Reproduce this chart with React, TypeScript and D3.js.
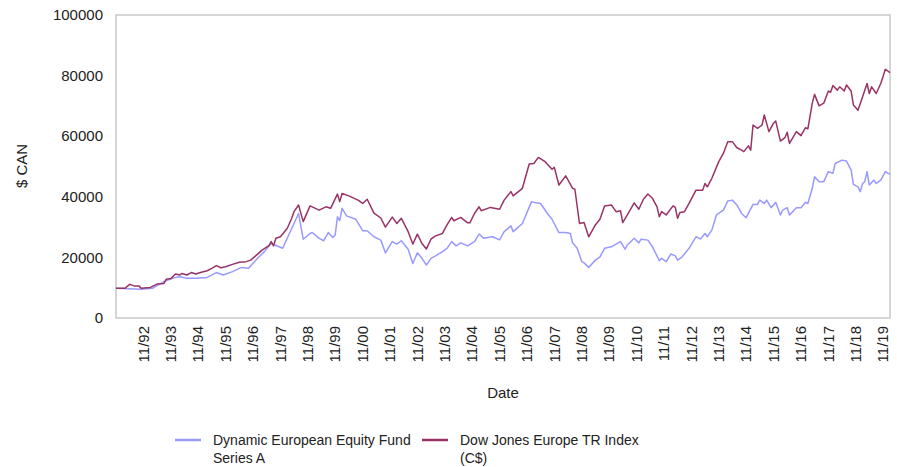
import * as d3 from 'd3';
import { useEffect, useRef } from 'react';

const WIDTH = 897;
const HEIGHT = 467;
const MARGIN = { top: 15, right: 7, bottom: 149, left: 116 };

// months counted from Nov 1991
const START_YEAR = 1991;
const START_MONTH = 10;
const LAST_MONTH = 339;

const fundMonths = [
    0, 11, 16, 21, 26, 28, 31, 35, 40, 44, 47, 51, 55, 58, 62, 65, 68, 73, 76, 78, 80, 82, 85, 86, 89, 91, 93, 95, 96,
    97, 98, 99, 101, 105, 108, 110, 113, 116, 118, 121, 123, 125, 128, 130, 132, 134, 136, 138, 140, 143, 145, 147,
    149, 151, 154, 157, 159, 161, 165, 168, 170, 173, 174, 178, 182, 184, 186, 189, 191, 194, 197, 199, 200, 202, 204,
    205, 207, 210, 212, 214, 217, 220, 221, 223, 224, 227, 229, 230, 233, 235, 238, 239, 241, 243, 245, 246, 248, 251,
    254, 256, 258, 259, 261, 263, 266, 268, 270, 272, 274, 276, 277, 279, 281, 282, 284, 285, 287, 289, 291, 292, 294,
    295, 298, 300, 302, 303, 305, 306, 308, 310, 312, 314, 315, 318, 320, 322, 323, 325, 326, 327, 328, 329, 330, 332,
    333, 335, 337, 339,
];
const fundValues = [
    9800, 9500, 9800, 12000, 13400, 13600, 13100, 13100, 13400, 15000, 14200, 15300, 16700, 16400, 19700, 21900, 24600,
    23000, 27900, 31200, 34500, 26000, 27900, 28200, 26300, 25500, 28200, 26600, 27400, 33400, 32100, 36200, 33700,
    32600, 28800, 28800, 26800, 25700, 21500, 25200, 24400, 25500, 22700, 18000, 21500, 19700, 17500, 19700, 20500,
    21900, 23000, 25200, 23800, 24800, 23800, 25200, 27700, 26300, 26800, 25800, 28500, 30400, 28500, 31200, 38400,
    38000, 37800, 34500, 32600, 28200, 28200, 27900, 24800, 23000, 18600, 18200, 16700, 19100, 20200, 23000, 23500,
    24800, 25200, 22700, 24100, 26300, 24800, 26000, 25700, 23500, 18900, 19700, 18600, 21100, 20500, 19100, 20200,
    23000, 26800, 26100, 27900, 26800, 29000, 34000, 35600, 38600, 38900, 37300, 34500, 33100, 34500, 37500, 37500,
    38900, 37800, 38900, 36400, 38200, 34000, 35600, 36400, 34000, 36400, 36400, 38200, 37800, 42800, 46600, 45000,
    45000, 48300, 47800, 51000, 52100, 51800, 48800, 44100, 43300, 41700, 44400, 45000, 48300, 43900, 45500, 44400,
    45500, 48300, 47400,
];

const indexMonths = [
    0, 4, 6, 8, 10, 11, 15, 18, 21, 22, 24, 26, 28, 29, 31, 33, 35, 37, 40, 42, 44, 46, 48, 51, 54, 57, 59, 62, 64, 67,
    68, 69, 70, 72, 75, 77, 78, 80, 82, 85, 89, 92, 94, 97, 98, 99, 102, 106, 108, 110, 113, 116, 118, 121, 123, 125,
    128, 130, 132, 134, 136, 138, 140, 143, 145, 147, 148, 151, 154, 155, 157, 159, 160, 164, 168, 170, 173, 174, 178,
    181, 183, 185, 188, 191, 192, 194, 197, 200, 201, 203, 205, 207, 210, 212, 214, 217, 219, 221, 222, 224, 227, 229,
    231, 233, 235, 237, 238, 239, 241, 244, 245, 246, 247, 249, 251, 254, 257, 258, 259, 261, 264, 266, 268, 270, 272,
    274, 275, 277, 278, 279, 281, 283, 284, 286, 288, 289, 291, 293, 294, 295, 298, 300, 302, 303, 305, 306, 308, 310,
    312, 313, 314, 316, 317, 319, 320, 322, 323, 325, 327, 329, 330, 331, 333, 335, 337, 339,
];
const indexValues = [
    9800, 9800, 11100, 10600, 10600, 9800, 10100, 11200, 11400, 12800, 13000, 14500, 14200, 14700, 14200, 15000, 14500,
    15000, 15600, 16400, 17300, 16600, 16900, 17700, 18400, 18600, 19100, 21100, 22400, 23900, 25200, 23800, 26300,
    26800, 29600, 32900, 35100, 37300, 31800, 37000, 35600, 36700, 36200, 40900, 38400, 41100, 40300, 38900, 37800,
    39200, 34600, 33000, 30000, 33300, 31200, 32900, 28500, 24400, 27700, 24600, 22800, 26000, 27100, 27900, 30700,
    33200, 32100, 33200, 31400, 31400, 34500, 36700, 35400, 36500, 35900, 38900, 41700, 40300, 42800, 50800, 51000,
    53000, 51600, 49100, 49700, 43900, 46900, 42800, 42500, 31200, 31500, 26800, 30700, 32600, 37000, 37300, 35100,
    35400, 31500, 34000, 38000, 35900, 39200, 40900, 39500, 36700, 33400, 35100, 34000, 37000, 36500, 32900, 34800,
    35100, 37800, 42200, 42200, 44400, 43300, 46100, 51600, 54300, 58200, 58200, 56200, 55400, 54900, 56800, 55400,
    63700, 62600, 63700, 67000, 61500, 64300, 65000, 58400, 59500, 61300, 57600, 61500, 60200, 62800, 62400, 70900,
    73800, 70000, 70900, 74900, 74500, 76700, 75200, 76300, 74900, 76900, 74900, 70300, 68600, 73000, 77400, 74100,
    76300, 74100, 77400, 82100, 81000,
];

const yTicks = [0, 20000, 40000, 60000, 80000, 100000];
const xTickLabels = [
    '11/92', '11/93', '11/94', '11/95', '11/96', '11/97', '11/98', '11/99', '11/00', '11/01', '11/02', '11/03', '11/04',
    '11/05', '11/06', '11/07', '11/08', '11/09', '11/10', '11/11', '11/12', '11/13', '11/14', '11/15', '11/16', '11/17',
    '11/18', '11/19',
];

const seriesNames = ['Dynamic European Equity Fund', 'Dow Jones Europe TR Index'];
const seriesNames2 = ['Series A', '(C$)'];
const seriesColors = ['#9999ff', '#993366'];

const FONT = 'Liberation Sans, Arial, sans-serif';

const monthDate = (m: number) => new Date(START_YEAR, START_MONTH + m, 1);

const App = () => {
    const svgRef = useRef<SVGSVGElement>(null);

    useEffect(() => {
        if (!svgRef.current) return;
        const innerWidth = WIDTH - MARGIN.left - MARGIN.right;
        const innerHeight = HEIGHT - MARGIN.top - MARGIN.bottom;

        const xScale = d3.scaleTime().domain([monthDate(0), monthDate(LAST_MONTH)]).range([0, innerWidth]);
        const yScale = d3.scaleLinear().domain([0, 100000]).range([innerHeight, 0]);

        const svg = d3.select(svgRef.current);
        svg.selectAll('*').remove();
        const g = svg.append('g').attr('transform', `translate(${MARGIN.left},${MARGIN.top})`);

        // plot frame
        g.append('rect')
            .attr('x', 0)
            .attr('y', 0)
            .attr('width', innerWidth)
            .attr('height', innerHeight)
            .attr('fill', 'none')
            .attr('stroke', '#c8c8c8')
            .attr('stroke-width', 1.5);

        // y labels
        g.selectAll('text.ytick')
            .data(yTicks)
            .enter()
            .append('text')
            .attr('class', 'ytick')
            .attr('x', -13)
            .attr('y', (d) => yScale(d))
            .attr('dy', '0.35em')
            .attr('text-anchor', 'end')
            .style('font-family', FONT)
            .style('font-size', '15px')
            .attr('fill', '#222')
            .text((d) => String(d));

        // x labels, one per November
        g.selectAll('text.xtick')
            .data(xTickLabels)
            .enter()
            .append('text')
            .attr('class', 'xtick')
            .attr('transform', (_d, i) => `translate(${xScale(monthDate(12 * (i + 1)))},${innerHeight + 8}) rotate(-90)`)
            .attr('dy', '0.35em')
            .attr('text-anchor', 'end')
            .style('font-family', FONT)
            .style('font-size', '15px')
            .attr('fill', '#222')
            .text((d) => d);

        const line = d3
            .line<[number, number]>()
            .x((d) => xScale(monthDate(d[0])))
            .y((d) => yScale(d[1]));

        const series: [number, number][][] = [
            fundMonths.map((m, i) => [m, fundValues[i]]),
            indexMonths.map((m, i) => [m, indexValues[i]]),
        ];

        series.forEach((s, i) => {
            g.append('path')
                .datum(s)
                .attr('fill', 'none')
                .attr('stroke', seriesColors[i])
                .attr('stroke-width', 1.5)
                .attr('stroke-linejoin', 'round')
                .attr('d', line);
        });

        // axis titles
        svg.append('text')
            .attr('x', 503)
            .attr('y', 398)
            .attr('text-anchor', 'middle')
            .style('font-family', FONT)
            .style('font-size', '15px')
            .attr('fill', '#222')
            .text('Date');

        svg.append('text')
            .attr('transform', 'translate(22,166) rotate(-90)')
            .attr('dy', '0.35em')
            .attr('text-anchor', 'middle')
            .style('font-family', FONT)
            .style('font-size', '15px')
            .attr('fill', '#222')
            .text('$ CAN');

        // legend
        const legendX = [175, 422];
        seriesNames.forEach((name, i) => {
            const lg = svg.append('g').attr('transform', `translate(${legendX[i]},440)`);
            lg.append('line')
                .attr('x1', 0)
                .attr('x2', 26)
                .attr('y1', 0)
                .attr('y2', 0)
                .attr('stroke', seriesColors[i])
                .attr('stroke-width', 2.5);
            lg.append('text')
                .attr('x', 38)
                .attr('y', 5)
                .style('font-family', FONT)
                .style('font-size', '14px')
                .attr('fill', '#222')
                .text(name);
            lg.append('text')
                .attr('x', 38)
                .attr('y', 23)
                .style('font-family', FONT)
                .style('font-size', '14px')
                .attr('fill', '#222')
                .text(seriesNames2[i]);
        });
    }, []);

    return (
        <div style={{ position: 'absolute', left: 0, top: 0 }}>
            <svg ref={svgRef} width={WIDTH} height={HEIGHT} style={{ display: 'block', background: '#fff' }}></svg>
        </div>
    );
};

export default App;
